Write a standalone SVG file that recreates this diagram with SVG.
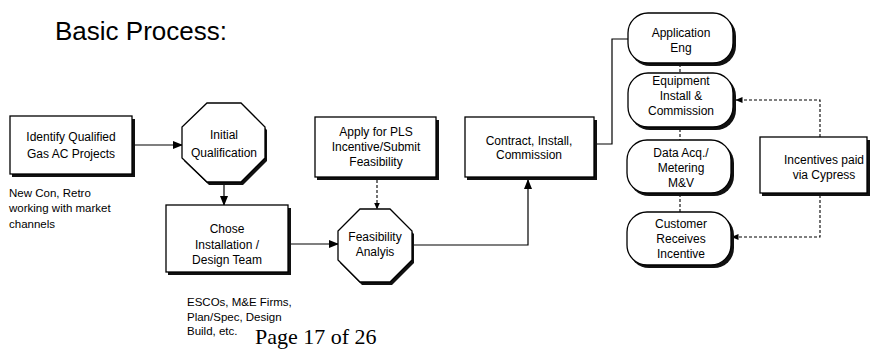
<svg xmlns="http://www.w3.org/2000/svg" width="873" height="349" viewBox="0 0 873 349">
<style>
.sh{fill:#111;stroke:none}
.bx{fill:#fff;stroke:#000;stroke-width:1.3}
.t{font-family:"Liberation Sans",Arial,sans-serif;font-size:12px;fill:#000;text-anchor:middle}
.n{font-family:"Liberation Sans",Arial,sans-serif;font-size:11.5px;fill:#000}
.c{fill:none;stroke:#000;stroke-width:1.2}
.d{fill:none;stroke:#000;stroke-width:1.1;stroke-dasharray:3 2}
</style>
<defs>
<marker id="ah" markerWidth="10" markerHeight="8" refX="9" refY="4" orient="auto" markerUnits="userSpaceOnUse">
<path d="M0,0 L10,4 L0,8 Z" fill="#000"/>
</marker>
<marker id="ahs" markerWidth="7" markerHeight="6" refX="6.5" refY="3" orient="auto" markerUnits="userSpaceOnUse">
<path d="M0,0 L7,3 L0,6 Z" fill="#000"/>
</marker>
</defs>
<rect width="873" height="349" fill="#fff"/>
<text x="55" y="40" font-family="'Liberation Sans',Arial,sans-serif" font-size="26" fill="#000">Basic Process:</text>

<g id="connectors">
<line class="c" x1="133" y1="145" x2="182" y2="145" marker-end="url(#ah)"/>
<line class="c" x1="224" y1="183" x2="224" y2="205" marker-end="url(#ah)"/>
<line class="c" x1="290" y1="244" x2="338" y2="244" marker-end="url(#ah)"/>
<line class="d" x1="377" y1="180" x2="377" y2="209" marker-end="url(#ahs)"/>
<polyline class="c" points="413,245 528,245 528,180" marker-end="url(#ah)"/>
<polyline class="c" points="596,144 612,144 612,39 629,39"/>
<line class="d" x1="680" y1="64" x2="680" y2="73"/>
<line class="d" x1="680" y1="129" x2="680" y2="140"/>
<line class="d" x1="680" y1="194" x2="680" y2="212"/>
<polyline class="d" points="820,137 820,100 736,100" marker-end="url(#ahs)"/>
<polyline class="d" points="820,195 820,237 732,237" marker-end="url(#ahs)"/>
</g>

<g id="identify">
<rect class="sh" x="12" y="119" width="123" height="58"/>
<rect class="bx" x="10" y="116" width="122" height="58"/>
<text class="t" x="71" y="141">Identify Qualified</text>
<text class="t" x="71" y="158">Gas AC Projects</text>
</g>
<g id="note1">
<text class="n" x="9" y="197">New Con, Retro</text>
<text class="n" x="9" y="212">working with market</text>
<text class="n" x="9" y="228">channels</text>
</g>

<g id="initial">
<polygon class="sh" points="209,106 243,106 267,130 267,161 243,185 209,185 184,161 184,130"/>
<polygon class="bx" points="207,103 241,103 265,127 265,158 241,182 207,182 182,158 182,127"/>
<text class="t" x="224" y="139">Initial</text>
<text class="t" x="224" y="157">Qualification</text>
</g>

<g id="chose">
<rect class="sh" x="168" y="208" width="123" height="67"/>
<rect class="bx" x="166" y="205" width="122" height="67"/>
<text class="t" x="227" y="233">Chose</text>
<text class="t" x="227" y="249">Installation /</text>
<text class="t" x="227" y="264">Design Team</text>
</g>
<g id="note2">
<text class="n" x="187" y="306">ESCOs, M&amp;E Firms,</text>
<text class="n" x="187" y="321">Plan/Spec, Design</text>
<text class="n" x="187" y="335">Build, etc.</text>
</g>

<g id="apply">
<rect class="sh" x="317" y="120" width="122" height="60"/>
<rect class="bx" x="315" y="117" width="121" height="60"/>
<text class="t" x="376" y="136">Apply for PLS</text>
<text class="t" x="376" y="151">Incentive/Submit</text>
<text class="t" x="376" y="166">Feasibility</text>
</g>

<g id="feasibility">
<polygon class="sh" points="362,212 392,212 414,234 414,263 392,285 362,285 340,263 340,234"/>
<polygon class="bx" points="360,209 390,209 412,231 412,260 390,282 360,282 338,260 338,231"/>
<text class="t" x="375" y="241">Feasibility</text>
<text class="t" x="375" y="256">Analyis</text>
</g>

<g id="contract">
<rect class="sh" x="467" y="120" width="130" height="60"/>
<rect class="bx" x="465" y="117" width="129" height="60"/>
<text class="t" x="529" y="145">Contract, Install,</text>
<text class="t" x="529" y="159">Commission</text>
</g>

<g id="application">
<rect class="sh" x="630" y="16" width="106" height="50" rx="20"/>
<rect class="bx" x="628" y="13" width="105" height="50" rx="20"/>
<text class="t" x="681" y="37">Application</text>
<text class="t" x="681" y="52">Eng</text>
</g>

<g id="equipment">
<rect class="sh" x="630" y="76" width="106" height="54" rx="20"/>
<rect class="bx" x="628" y="73" width="105" height="54" rx="20"/>
<text class="t" x="681" y="85">Equipment</text>
<text class="t" x="681" y="100">Install &amp;</text>
<text class="t" x="681" y="115">Commission</text>
</g>

<g id="data">
<rect class="sh" x="629" y="143" width="105" height="53" rx="20"/>
<rect class="bx" x="627" y="140" width="104" height="53" rx="20"/>
<text class="t" x="681" y="157">Data Acq./</text>
<text class="t" x="681" y="172">Metering</text>
<text class="t" x="681" y="187">M&amp;V</text>
</g>

<g id="customer">
<rect class="sh" x="629" y="215" width="105" height="53" rx="20"/>
<rect class="bx" x="627" y="212" width="104" height="53" rx="20"/>
<text class="t" x="681" y="228">Customer</text>
<text class="t" x="681" y="243">Receives</text>
<text class="t" x="681" y="258">Incentive</text>
</g>

<g id="incentives">
<rect class="sh" x="762" y="140" width="108" height="56"/>
<rect class="bx" x="760" y="137" width="107" height="56"/>
<text class="t" x="824" y="164">Incentives paid</text>
<text class="t" x="824" y="179">via Cypress</text>
</g>

<text x="255" y="344" font-family="'Liberation Serif','Times New Roman',serif" font-size="22" fill="#000">Page 17 of 26</text>
</svg>
